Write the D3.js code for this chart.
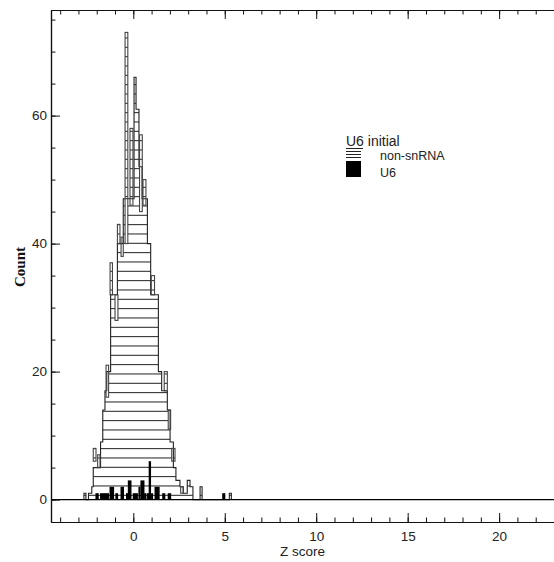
<!DOCTYPE html>
<html><head><meta charset="utf-8">
<script src="https://cdn.jsdelivr.net/npm/d3@7"></script>
<style>body{margin:0;background:#fff}svg{display:block}</style>
</head><body>
<svg id="c" width="554" height="562"></svg>
<script>
// ---------------- data ----------------
const xMajorTicks = [0, 5, 10, 15, 20];
const xMinorTicks = d3.range(-4, 24, 1);
const yMajorTicks = [0, 20, 40, 60];
const yMinorTicks = d3.range(0, 80, 5);

// non-snRNA histogram (step outline): bin edges (Z) and counts
const bodyEdges = [-2.70, -2.59, -2.45, -2.27, -2.19, -1.79, -1.67, -1.55, -1.45, -1.24, -0.87, -0.55,
  0.04, 0.15, 0.31, 0.48, 0.77, 0.95, 1.37, 1.55, 1.86, 2.01, 2.19, 2.33, 2.55, 2.73, 2.95, 3.10, 3.26,
  3.65, 3.76, 5.25, 5.36];
const bodyCounts = [1, 0, 1, 2, 5, 9, 14, 17, 20, 32, 40, 47,
  66, 61, 52, 47, 40, 32, 20, 17, 14, 9, 5, 3, 2, 1, 3, 2,
  0, 2, 0, 1];

// narrow overlaid non-snRNA bins: Z start, Z end, low count, high count
const spikeZ0 = [-0.45, -0.18, 0.34, 0.53, -0.87, -0.67, -1.27, -1.00, 0.98, -1.49, 1.69, 1.91, -2.19, -1.95, 2.10, 2.59];
const spikeZ1 = [-0.30, -0.02, 0.49, 0.69, -0.73, -0.55, -1.14, -0.84, 1.16, -1.35, 1.86, 2.04, -2.04, -1.82, 2.28, 2.73];
const spikeLo = [40, 46, 45, 46, 40, 38, 32, 28, 32, 16, 17, 11, 6, 5, 6, 1];
const spikeHi = [73, 58, 57, 50, 43, 41, 37, 32, 35, 21, 20, 14, 8, 7, 8, 2];

// U6 histogram bins
const u6Z0 = [-2.07, -1.82, -1.66, -1.50, -1.30, -0.98, -0.70, -0.40, -0.30, -0.03, 0.28, 0.39, 0.59, 0.75, 0.84, 0.97, 1.16, 1.58, 1.88, 4.86];
const u6Z1 = [-1.89, -1.65, -1.49, -1.33, -1.05, -0.83, -0.51, -0.30, -0.10, 0.25, 0.39, 0.61, 0.72, 0.84, 0.97, 1.08, 1.44, 1.75, 2.07, 5.03];
const u6Count = [1, 1, 1, 1, 2, 1, 2, 1, 3, 1, 2, 3, 1, 1, 6, 1, 2, 1, 1, 1];

const legendTitle = "U6 initial";
const legendLabels = ["non-snRNA", "U6"];

// ---------------- drawing ----------------
const svg = d3.select("#c");
const L = 51, R = 554, T = 10, B = 522;
const x = d3.scaleLinear().domain([-4.5, 23]).range([L, R]);
const y = d3.scaleLinear().domain([-3.5, 76.5]).range([B, T]);
const font = "'Liberation Sans', Arial, Helvetica, sans-serif";
const ink = "#111";

// body path points
const pts = [[bodyEdges[0], 0]];
bodyCounts.forEach((c, i) => { pts.push([bodyEdges[i], c]); pts.push([bodyEdges[i + 1], c]); });
pts.push([bodyEdges[bodyEdges.length - 1], 0]);
const line = d3.line().x(d => x(d[0])).y(d => y(d[1]));

const spikes = spikeZ0.map((z, i) => ({z0: z, z1: spikeZ1[i], lo: spikeLo[i], hi: spikeHi[i]}));

// clip for hatching
const defs = svg.append("defs");
const cp = defs.append("clipPath").attr("id", "hatchClip");
cp.append("path").attr("d", line(pts) + "Z");
spikes.forEach(s => cp.append("rect").attr("x", x(s.z0)).attr("y", y(s.hi))
  .attr("width", x(s.z1) - x(s.z0)).attr("height", y(s.lo) - y(s.hi)));

// hatching lines
const hatch = svg.append("g").attr("clip-path", "url(#hatchClip)");
for (let yy = 495.3; yy > T; yy -= 9.333) {
  hatch.append("line").attr("x1", L).attr("x2", R).attr("y1", yy).attr("y2", yy)
    .attr("stroke", "#222").attr("stroke-width", 1);
}

// body outline
svg.append("path").attr("d", line(pts)).attr("fill", "none")
  .attr("stroke", "#222").attr("stroke-width", 1.1);

// spikes
svg.append("g").selectAll("rect").data(spikes).join("rect")
  .attr("x", d => x(d.z0)).attr("y", d => y(d.hi))
  .attr("width", d => x(d.z1) - x(d.z0)).attr("height", d => y(d.lo) - y(d.hi))
  .attr("fill", "none").attr("stroke", "#444").attr("stroke-width", 1.1);

// U6 bars
const u6 = u6Z0.map((z, i) => ({z0: z, z1: u6Z1[i], c: u6Count[i]}));
svg.append("g").selectAll("rect").data(u6).join("rect")
  .attr("x", d => x(d.z0)).attr("y", d => y(d.c))
  .attr("width", d => Math.max(2, x(d.z1) - x(d.z0))).attr("height", d => y(0) - y(d.c))
  .attr("fill", "#000");

// zero line
svg.append("line").attr("x1", L).attr("x2", R).attr("y1", y(0)).attr("y2", y(0))
  .attr("stroke", "#000").attr("stroke-width", 1.3);

// axes
function styleAxis(g) {
  g.selectAll("path.domain").attr("stroke", ink).attr("stroke-width", 1.2);
  g.selectAll(".tick line").attr("stroke", ink).attr("stroke-width", 1);
  g.selectAll("text").attr("font-family", font).attr("font-size", "13.5px").attr("fill", "#222");
}
// bottom
svg.append("g").attr("transform", `translate(0,${B})`)
  .call(d3.axisBottom(x).tickValues(xMinorTicks).tickSize(-4.5).tickSizeOuter(0).tickFormat(""))
  .call(styleAxis);
svg.append("g").attr("transform", `translate(0,${B})`)
  .call(d3.axisBottom(x).tickValues(xMajorTicks).tickSize(-9).tickSizeOuter(0).tickPadding(9).tickFormat(d3.format("d")))
  .call(styleAxis);
// top
svg.append("g").attr("transform", `translate(0,${T})`)
  .call(d3.axisTop(x).tickValues(xMinorTicks).tickSize(-4.5).tickSizeOuter(0).tickFormat(""))
  .call(styleAxis);
svg.append("g").attr("transform", `translate(0,${T})`)
  .call(d3.axisTop(x).tickValues(xMajorTicks).tickSize(-9).tickSizeOuter(0).tickFormat(""))
  .call(styleAxis);
// left
svg.append("g").attr("transform", `translate(${L},0)`)
  .call(d3.axisLeft(y).tickValues(yMinorTicks).tickSize(-4.5).tickSizeOuter(0).tickFormat(""))
  .call(styleAxis);
svg.append("g").attr("transform", `translate(${L},0)`)
  .call(d3.axisLeft(y).tickValues(yMajorTicks).tickSize(-9).tickSizeOuter(0).tickPadding(4).tickFormat(d3.format("d")))
  .call(styleAxis);

// axis titles
svg.append("text").attr("x", (L + R) / 2).attr("y", 556).attr("text-anchor", "middle")
  .attr("font-family", font).attr("font-size", "13.5px").attr("fill", "#222").text("Z score");
svg.append("text").attr("transform", "translate(25,267) rotate(-90)").attr("text-anchor", "middle")
  .attr("font-family", "'Liberation Serif', 'Times New Roman', serif").attr("font-weight", "bold")
  .attr("font-size", "15px").attr("fill", "#111").text("Count");

// legend
const lg = svg.append("g");
lg.append("text").attr("x", 346).attr("y", 146).attr("font-family", font).attr("font-size", "14px")
  .attr("fill", "#222").text(legendTitle);
lg.append("line").attr("x1", 346).attr("x2", 363).attr("y1", 148.5).attr("y2", 148.5).attr("stroke", "#222");
[151.5, 154.5, 157.5].forEach(yy => lg.append("line").attr("x1", 346).attr("x2", 361)
  .attr("y1", yy).attr("y2", yy).attr("stroke", "#222"));
lg.append("rect").attr("x", 346).attr("y", 161).attr("width", 15).attr("height", 16).attr("fill", "#000");
lg.append("text").attr("x", 380).attr("y", 160).attr("font-family", font).attr("font-size", "12.5px")
  .attr("fill", "#222").text(legendLabels[0]);
lg.append("text").attr("x", 380).attr("y", 177).attr("font-family", font).attr("font-size", "12.5px")
  .attr("fill", "#222").text(legendLabels[1]);
</script>
</body></html>
